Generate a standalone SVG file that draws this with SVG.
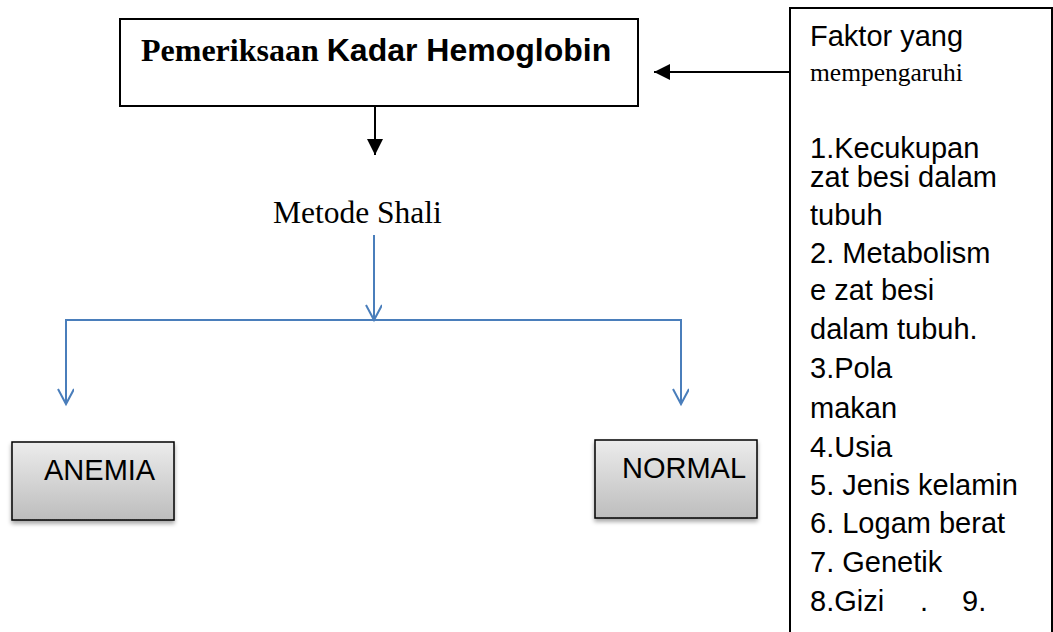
<svg xmlns="http://www.w3.org/2000/svg" width="1053" height="632" viewBox="0 0 1053 632">
<style>
.arial{font-family:"Liberation Sans",Arial,sans-serif;fill:#000}
.times{font-family:"Liberation Serif","Times New Roman",serif;fill:#000}
.box{fill:#fff;stroke:#000;stroke-width:2}
.gbox{fill:url(#grad);stroke:#000;stroke-width:1.5;filter:url(#shadow)}
.blue{stroke:#4a7ebb;stroke-width:2;fill:none}
.black{stroke:#000;stroke-width:2;fill:none}
.f{font-size:29px}
</style>
<defs>
<linearGradient id="grad" x1="0" y1="0" x2="0" y2="1">
<stop offset="0" stop-color="#ececec"/>
<stop offset="1" stop-color="#bdbdbd"/>
</linearGradient>
<filter id="shadow" x="-10%" y="-10%" width="130%" height="140%">
<feDropShadow dx="0" dy="3" stdDeviation="2" flood-color="#000" flood-opacity="0.35"/>
</filter>
<marker id="open" markerWidth="20" markerHeight="20" refX="16" refY="8" orient="auto" markerUnits="userSpaceOnUse">
<path d="M1,0 L16,8 L1,16" fill="none" stroke="#4a7ebb" stroke-width="2"/>
</marker>
<marker id="solid" markerWidth="20" markerHeight="20" refX="16" refY="8" orient="auto" markerUnits="userSpaceOnUse">
<path d="M0,0 L16,8 L0,16 Z" fill="#000"/>
</marker>
</defs>

<g id="connectors">
<line class="black" x1="375" y1="106" x2="375" y2="155" marker-end="url(#solid)"/>
<line class="black" x1="790" y1="72" x2="654" y2="72" marker-end="url(#solid)"/>
<line class="blue" x1="374" y1="235" x2="374" y2="320" marker-end="url(#open)"/>
<polyline class="blue" points="66,404 66,320 681,320 681,404"/>
<line class="blue" x1="66" y1="330" x2="66" y2="404" marker-end="url(#open)"/>
<line class="blue" x1="681" y1="330" x2="681" y2="404" marker-end="url(#open)"/>
</g>

<g id="node-pemeriksaan">
<rect class="box" x="120" y="19" width="518" height="87"/>
<text x="141" y="61" font-weight="bold" font-size="32px"><tspan class="times">Pemeriksaan </tspan><tspan class="arial">Kadar Hemoglobin</tspan></text>
</g>

<g id="node-metode">
<text class="times" x="273" y="223" font-size="31.5px">Metode Shali</text>
</g>

<g id="node-anemia">
<rect class="gbox" x="12" y="442" width="162" height="78"/>
<text class="arial f" x="44" y="480">ANEMIA</text>
</g>

<g id="node-normal">
<rect class="gbox" x="595" y="440" width="162" height="78"/>
<text class="arial f" x="622" y="478">NORMAL</text>
</g>

<g id="node-faktor">
<rect class="box" x="790" y="8" width="262" height="640"/>
<text class="arial f" x="810" y="46">Faktor yang</text>
<text class="times" x="810" y="81" font-size="25.5px">mempengaruhi</text>
<text class="arial f" x="810" y="158">1.Kecukupan</text>
<text class="arial f" x="810" y="187">zat besi dalam</text>
<text class="arial f" x="810" y="225">tubuh</text>
<text class="arial f" x="810" y="263">2. Metabolism</text>
<text class="arial f" x="810" y="300">e zat besi</text>
<text class="arial f" x="810" y="339">dalam tubuh.</text>
<text class="arial f" x="810" y="378">3.Pola</text>
<text class="arial f" x="810" y="418">makan</text>
<text class="arial f" x="810" y="457">4.Usia</text>
<text class="arial f" x="810" y="495">5. Jenis kelamin</text>
<text class="arial f" x="810" y="533">6. Logam berat</text>
<text class="arial f" x="810" y="572">7. Genetik</text>
<text class="arial f" x="810" y="611">8.Gizi<tspan x="920">.</tspan><tspan x="962">9.</tspan></text>
</g>
</svg>
